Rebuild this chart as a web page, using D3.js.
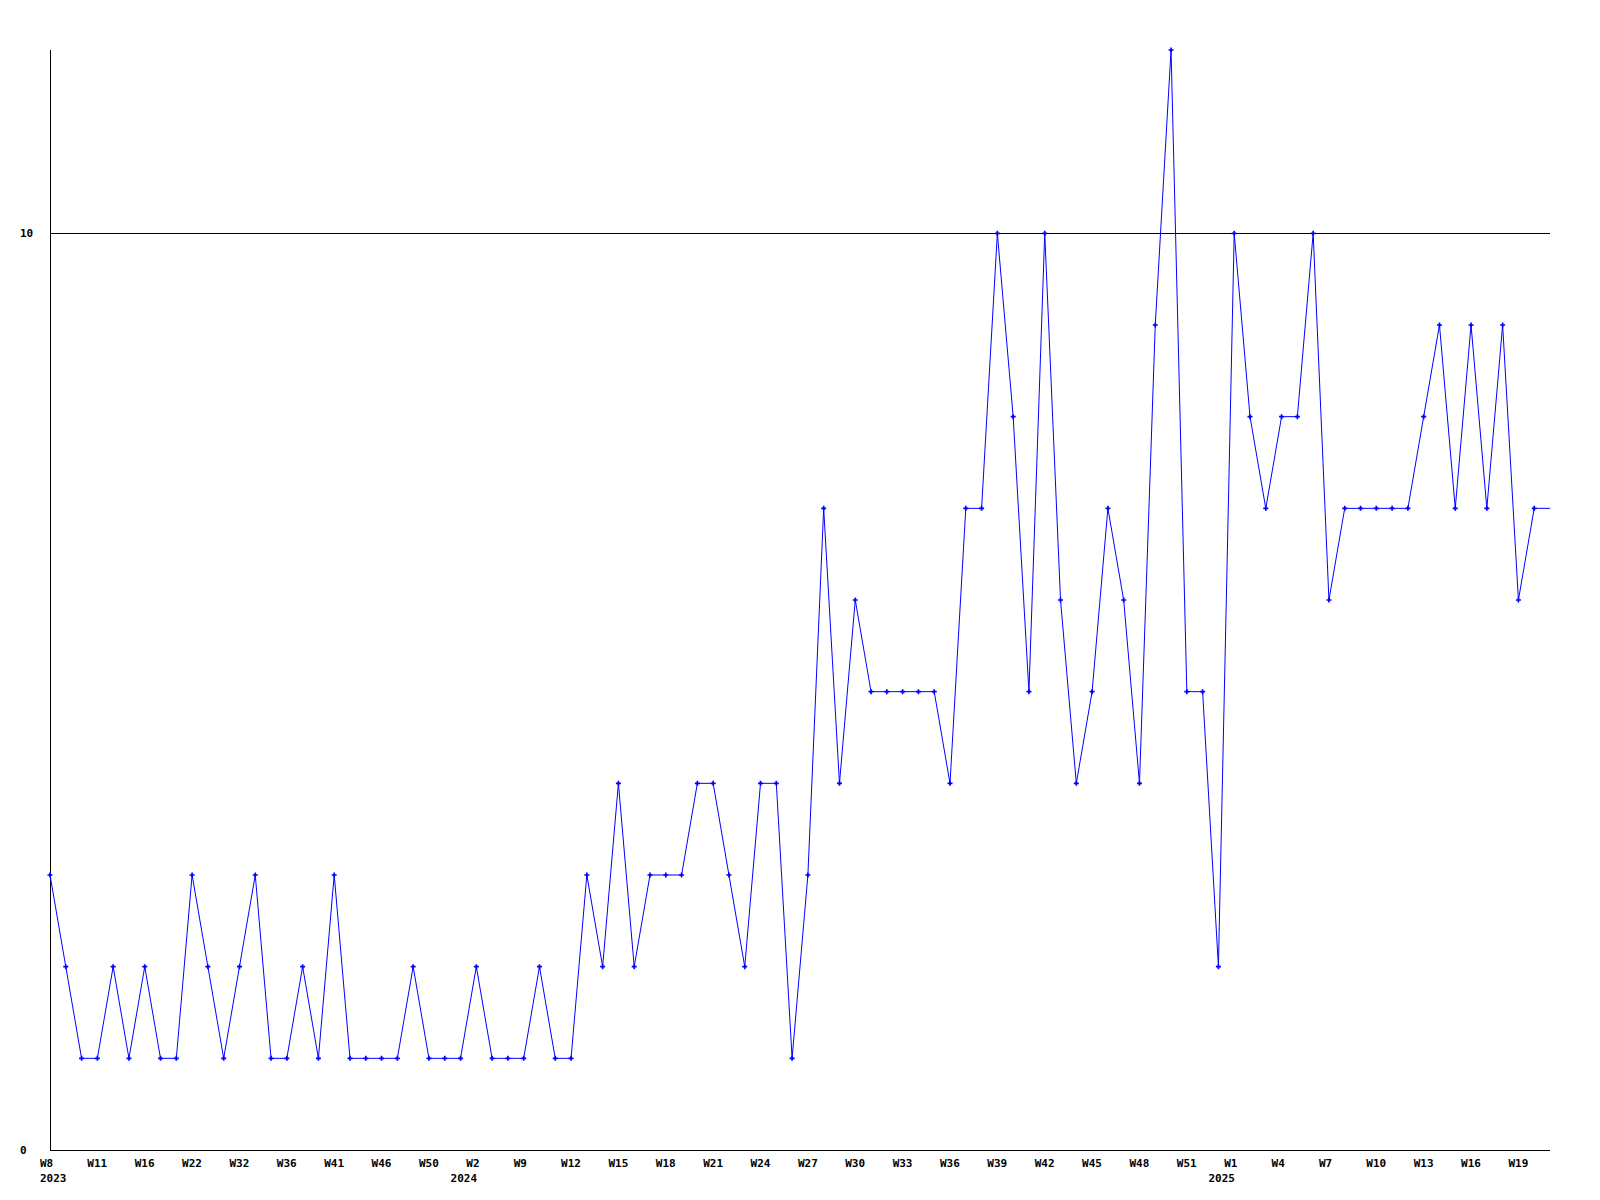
<!DOCTYPE html>
<html>
<head>
<meta charset="utf-8">
<script src="https://cdn.jsdelivr.net/npm/d3@7"></script>
<style>
  html, body { margin: 0; padding: 0; background: #fff; }
  svg { display: block; }
  text { font-family: "DejaVu Sans Mono", "Liberation Mono", monospace; font-weight: bold; font-size: 11px; fill: #000; }
</style>
</head>
<body>
<svg id="chart" width="1600" height="1200"></svg>
<script>
// ---- data ----
const values = [
  3, 2, 1, 1, 2, 1, 2, 1, 1, 3,
  2, 1, 2, 3, 1, 1, 2, 1, 3, 1,
  1, 1, 1, 2, 1, 1, 1, 2, 1, 1,
  1, 2, 1, 1, 3, 2, 4, 2, 3, 3,
  3, 4, 4, 3, 2, 4, 4, 1, 3, 7,
  4, 6, 5, 5, 5, 5, 5, 4, 7, 7,
  10, 8, 5, 10, 6, 4, 5, 7, 6, 4,
  9, 12, 5, 5, 2, 10, 8, 7, 8, 8,
  10, 6, 7, 7, 7, 7, 7, 8, 9, 7,
  9, 7, 9, 6, 7
];
const tickLabels = [
  "W8", "W11", "W16", "W22", "W32", "W36", "W41", "W46", "W50", "W2",
  "W9", "W12", "W15", "W18", "W21", "W24", "W27", "W30", "W33", "W36",
  "W39", "W42", "W45", "W48", "W51", "W1", "W4", "W7", "W10", "W13",
  "W16", "W19"
];
const tickStep = 3;
const yearLabels = ["2023", "2024", "2025"];
const yearIndex = [0, 26, 74];
const yTicks = [0, 10];
const yMax = 12;

// ---- layout ----
const svg = d3.select("#chart");
const x0 = 50, x1 = 1550, yTop = 50, yBot = 1150;
const x = d3.scaleLinear().domain([0, values.length]).range([x0, x1]);
const y = d3.scaleLinear().domain([0, yMax]).range([yBot, yTop]);

// grid line at 10
svg.append("g").selectAll("line")
  .data(yTicks.filter(d => d > 0))
  .join("line")
  .attr("x1", x0).attr("x2", x1)
  .attr("y1", d => Math.round(y(d)) + 0.5).attr("y2", d => Math.round(y(d)) + 0.5)
  .attr("stroke", "#000").attr("stroke-width", 1);

// axes lines
svg.append("line").attr("x1", x0 + 0.5).attr("x2", x0 + 0.5).attr("y1", yTop).attr("y2", yBot + 0.5)
  .attr("stroke", "#000").attr("stroke-width", 1);
svg.append("line").attr("x1", x0).attr("x2", x1).attr("y1", yBot + 0.5).attr("y2", yBot + 0.5)
  .attr("stroke", "#000").attr("stroke-width", 1);

// y labels
svg.append("g").selectAll("text")
  .data(yTicks)
  .join("text")
  .attr("x", 20)
  .attr("y", d => y(d) + 4)
  .text(d => d);

// x tick labels
svg.append("g").selectAll("text")
  .data(tickLabels)
  .join("text")
  .attr("x", (d, i) => x(i * tickStep) - 10)
  .attr("y", 1167)
  .text(d => d);

// year labels
svg.append("g").selectAll("text")
  .data(yearLabels)
  .join("text")
  .attr("x", (d, i) => x(yearIndex[i]) - 10)
  .attr("y", 1182)
  .text(d => d);

// series line (extended flat to the right edge)
const linePts = values.map((v, i) => [x(i), y(v)]);
linePts.push([x(values.length), y(values[values.length - 1])]);
svg.append("path")
  .attr("d", d3.line()(linePts))
  .attr("fill", "none")
  .attr("stroke", "#0000ff")
  .attr("stroke-width", 1);

// markers
svg.append("g").selectAll("path")
  .data(values)
  .join("path")
  .attr("transform", (d, i) => `translate(${x(i)},${y(d)})`)
  .attr("d", d3.symbol().type(d3.symbolCross).size(14))
  .attr("fill", "#0000ff");
</script>
</body>
</html>
